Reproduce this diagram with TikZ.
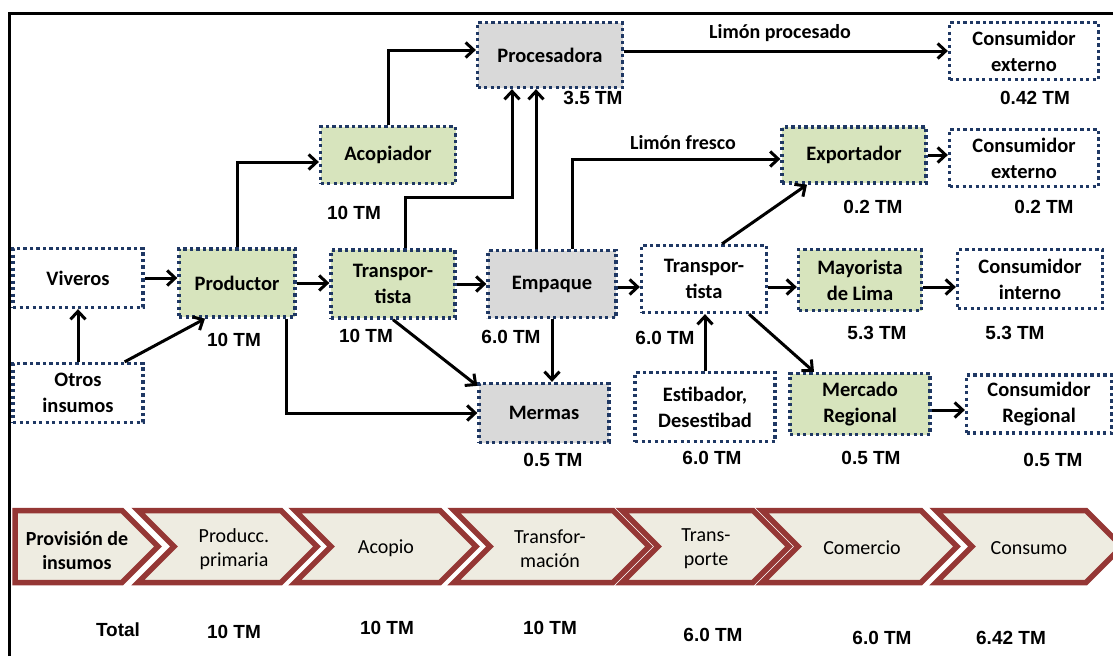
\documentclass[tikz,border=0pt]{standalone}
\usepackage{fontspec}
\setmainfont{Carlito}
\newfontfamily\qtyfont{Liberation Sans}
\usetikzlibrary{arrows.meta}
\definecolor{boxgreen}{RGB}{215,228,189}
\definecolor{boxgrey}{RGB}{217,217,217}
\definecolor{dotblue}{RGB}{31,56,100}
\definecolor{stagered}{RGB}{149,55,53}
\definecolor{stagefill}{RGB}{238,236,225}
\begin{document}
\begin{tikzpicture}
    [
    x=1pt,y=-1pt,
    box/.style={draw=dotblue,line width=3.3pt,dash pattern=on 3.3pt off 3.2pt,inner sep=0pt,align=center,font=\bfseries\fontsize{20.5}{26}\selectfont},
    flow/.style={line width=3pt,-{Straight Barb[length=8pt,width=15pt]}},
    qty/.style={font=\qtyfont\bfseries\fontsize{19}{22}\selectfont},
    stage/.style={draw=stagered,fill=stagefill,line width=5.5pt},
    stagetext/.style={align=center,font=\fontsize{20}{24}\selectfont}
    ]
    \useasboundingbox (0,0) rectangle (1113,656);
    \draw [line width=3pt] (9,656) -- (9,13) -- (1113,13);

    % actores
    \node (proc) at (550,55) [box,fill=boxgrey,minimum width=145pt,minimum height=65pt] {Procesadora};
    \node (cext1) at (1024,51) [box,minimum width=149pt,minimum height=57pt] {Consumidor\\externo};
    \node (acop) at (388,155) [box,fill=boxgreen,minimum width=135pt,minimum height=57pt] {Acopiador};
    \node (expo) at (854,155) [box,fill=boxgreen,minimum width=144pt,minimum height=56pt] {Exportador};
    \node (cext2) at (1024,158) [box,minimum width=149pt,minimum height=57pt] {Consumidor\\externo};
    \node (viv) at (78,278) [box,minimum width=130pt,minimum height=59pt] {Viveros};
    \node (prod) at (237,283) [box,fill=boxgreen,minimum width=116pt,minimum height=68pt] {Productor};
    \node (trans1) at (393,284) [box,fill=boxgreen,minimum width=124pt,minimum height=68pt] {Transpor-\\tista};
    \node (emp) at (552,284) [box,fill=boxgrey,minimum width=128pt,minimum height=67pt] {Empaque};
    \node (trans2) at (704,279) [box,minimum width=125pt,minimum height=67pt] {Transpor-\\tista};
    \node (may) at (860,280) [box,fill=boxgreen,minimum width=123pt,minimum height=61pt] {Mayorista\\de Lima};
    \node (cint) at (1030,279) [box,minimum width=145pt,minimum height=59pt] {Consumidor\\interno};
    \node (otros) at (78,393) [box,minimum width=130pt,minimum height=59pt] {Otros\\insumos};
    \node (merm) at (544,413) [box,fill=boxgrey,minimum width=130pt,minimum height=59pt] {Mermas};
    \node (esti) at (705,407) [box,minimum width=140pt,minimum height=69pt] {Estibador,\\Desestibad};
    \node (merc) at (860,404) [box,fill=boxgreen,minimum width=140pt,minimum height=61pt] {Mercado\\Regional};
    \node (creg) at (1039,404) [box,minimum width=145pt,minimum height=58pt] {Consumidor\\Regional};

    % flujos
    \draw [flow] (viv.east) -- (viv.east -| prod.west);
    \draw [flow] (prod.east) -- (prod.east -| trans1.west);
    \draw [flow] (trans1.east) -- (trans1.east -| emp.west);
    \draw [flow] ([yshift=-3pt]emp.east) -- ([yshift=-3pt]emp.east -| trans2.west);
    \draw [flow] ([yshift=-8pt]trans2.east) -- ([yshift=-8pt]trans2.east -| may.west);
    \draw [flow] ([yshift=-7pt]may.east) -- ([yshift=-7pt]may.east -| cint.west);
    \draw [flow] (otros.north) -- (viv.south);
    \draw [flow] ([xshift=-20pt]otros.north east) -- ([xshift=-32pt]prod.south);
    \draw [flow] (prod.north) |- ([yshift=-7pt]acop.west);
    \draw [flow] (acop.north) |- ([yshift=5pt]proc.west);
    \draw [flow] ([xshift=12pt]trans1.north) -- ++(0,-51) -| ([xshift=-38pt]proc.south);
    \draw [flow] ([xshift=-16pt]emp.north) -- ([xshift=-16pt]emp.north |- proc.south);
    \draw [flow] ([xshift=20pt]emp.north) |- ([yshift=-4pt]expo.west);
    \draw [flow] (proc.east |- cext1.west) -- (cext1.west);
    \draw [flow] (expo.east) -- (expo.east -| cext2.west);
    \draw [flow] ([xshift=18pt]trans2.north) -- ([xshift=-47pt]expo.south);
    \draw [flow] (esti.north) -- (esti.north |- trans2.south);
    \draw [flow] ([xshift=45pt]trans2.south) -- ([xshift=-46pt]merc.north);
    \draw [flow] ([yshift=-6pt]merc.east) -- ([yshift=-6pt]merc.east -| creg.west);
    \draw [flow] ([xshift=49pt]prod.south) |- (merm.west);
    \draw [flow] (trans1.south) -- ([yshift=-4pt]merm.north west);
    \draw [flow] (emp.south) -- (emp.south |- merm.north);

    \node (lproc) at (780,33) [font=\bfseries\fontsize{20}{24}\selectfont] {Limón procesado};
    \node (lfres) at (683,143) [font=\bfseries\fontsize{20}{24}\selectfont] {Limón fresco};

    % cantidades
    \node (qproc) at (593,98) [qty] {3.5 TM};
    \node (qcext1) at (1035,98) [qty] {0.42 TM};
    \node (qacop) at (354,213) [qty] {10 TM};
    \node (qexpo) at (873,207) [qty] {0.2 TM};
    \node (qcext2) at (1044,207) [qty] {0.2 TM};
    \node (qprod) at (234,340) [qty] {10 TM};
    \node (qtrans1) at (366,336) [qty] {10 TM};
    \node (qemp) at (511,337) [qty] {6.0 TM};
    \node (qtrans2) at (665,338) [qty] {6.0 TM};
    \node (qmay) at (877,333) [qty] {5.3 TM};
    \node (qcint) at (1015,333) [qty] {5.3 TM};
    \node (qmerm) at (553,460) [qty] {0.5 TM};
    \node (qesti) at (712,458) [qty] {6.0 TM};
    \node (qmerc) at (871,458) [qty] {0.5 TM};
    \node (qcreg) at (1053,460) [qty] {0.5 TM};

    % eslabones
    \draw [stage] (15,510.5) -- (122,510.5) -- (158,546.5) -- (122,582.5) -- (15,582.5) -- cycle;
    \foreach \l/\r in {138/281,295/440,454/613,622/753,762/921,936/1086}
      \draw [stage] (\l,510.5) -- (\r,510.5) -- (\r+36,546.5) -- (\r,582.5) -- (\l,582.5) -- (\l+36,546.5) -- cycle;
    \node (s1) at (77,551) [stagetext,font=\bfseries\fontsize{20}{24}\selectfont] {Provisión de\\insumos};
    \node (s2) at (234,549) [stagetext] {Producc.\\primaria};
    \node (s3) at (386,548) [stagetext] {Acopio};
    \node (s4) at (550,549) [stagetext] {Transfor-\\mación};
    \node (s5) at (706,549) [stagetext] {Trans-\\porte};
    \node (s6) at (862,548) [stagetext] {Comercio};
    \node (s7) at (1029,548) [stagetext] {Consumo};

    % totales
    \node (total) at (118,630) [qty] {Total};
    \node (t1) at (234,632) [qty] {10 TM};
    \node (t2) at (387,628) [qty] {10 TM};
    \node (t3) at (550,628) [qty] {10 TM};
    \node (t4) at (713,635) [qty] {6.0 TM};
    \node (t5) at (882,638) [qty] {6.0 TM};
    \node (t6) at (1011,638) [qty] {6.42 TM};
  \end{tikzpicture}
\end{document}
